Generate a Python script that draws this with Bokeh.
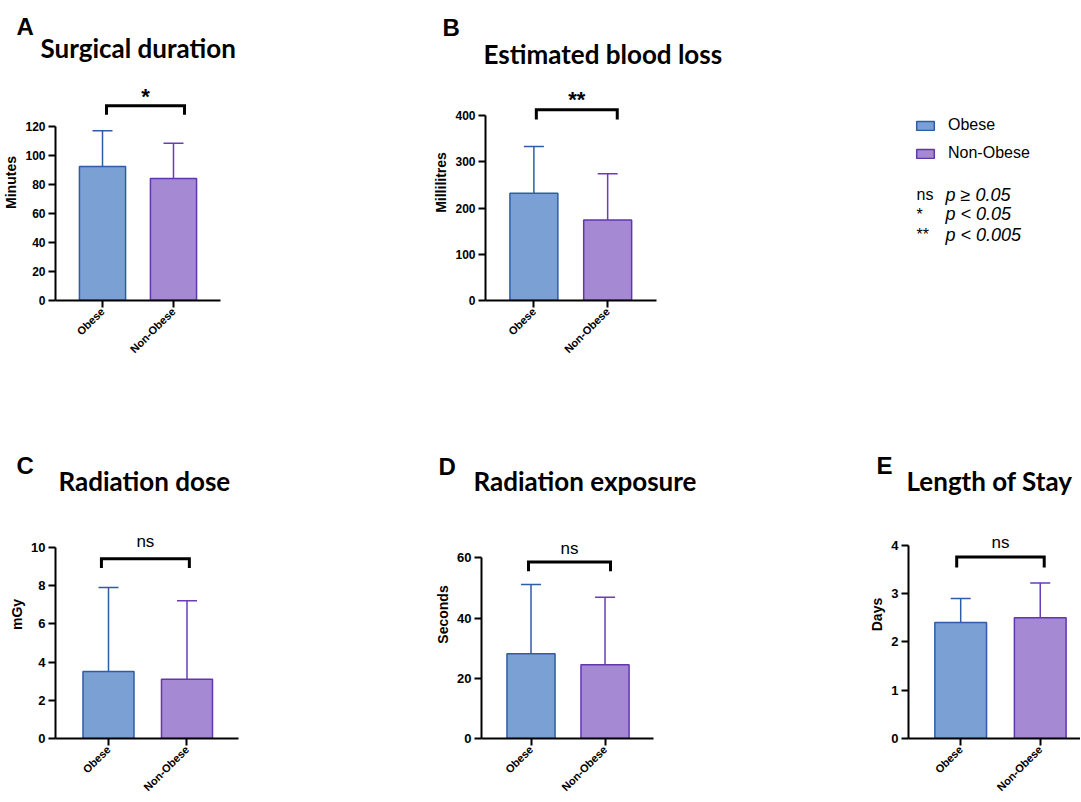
from bokeh.plotting import figure
from bokeh.models import (ColumnDataSource, Range1d, FixedTicker, Whisker, TeeHead,
                          Label, Legend, LegendItem, Title)
from bokeh.layouts import row, column
from bokeh.embed import file_html
from bokeh.resources import INLINE

# ---------------- data ----------------
groups = ["Obese", "Non-Obese"]
letters = ["A", "B", "C", "D", "E"]
titles = ["Surgical duration", "Estimated blood loss", "Radiation dose",
          "Radiation exposure", "Length of Stay"]
y_labels = ["Minutes", "Millilitres", "mGy", "Seconds", "Days"]
significance = ["*", "**", "ns", "ns", "ns"]

surgical_mean = [92.5, 84.2]
surgical_sd = [24.5, 24.3]
blood_mean = [232, 174]
blood_sd = [101, 100]
dose_mean = [3.5, 3.1]
dose_sd = [4.4, 4.1]
exposure_mean = [28.2, 24.5]
exposure_sd = [23.0, 22.4]
stay_mean = [2.4, 2.5]
stay_sd = [0.5, 0.72]

ticks_surgical = [0, 20, 40, 60, 80, 100, 120]
ticks_blood = [0, 100, 200, 300, 400]
ticks_dose = [0, 2, 4, 6, 8, 10]
ticks_exposure = [0, 20, 40, 60]
ticks_stay = [0, 1, 2, 3, 4]

key_marks = ["ns", "*", "**"]
key_texts = ["p \u2265 0.05", "p < 0.05", "p < 0.005"]

# ---------------- styles ----------------
FILL = ["#7aa0d4", "#a58ad3"]
LINE = ["#2f5ca6", "#6236ad"]
ERR = ["#2f5ca6", "#6a3db5"]
AX_FONT = "Liberation Sans"
TITLE_FONT = "Lato"

# panel geometry (pixels) and range extents
layouts = [
    dict(w=430, h=408, bl=55, br=210, bt=64, bb=108, xr=(0.338, 2.662), ytop=162.76,
         tick_fs="12px", lab_fs="14px", x_fs="11px", brx=(1.056, 2.155), bry=(128.1, 134.3),
         let_off=-39, let_st=-23, tit_off=-15, tit_st=2,
         sig_fs="22px", sig_off=9, sig_style="bold"),
    dict(w=429, h=408, bl=51, br=203, bt=64, bb=108, xr=(0.344, 2.662), ytop=510.3,
         tick_fs="12px", lab_fs="14px", x_fs="11px", brx=(1.033, 2.13), bry=(391.4, 412.5),
         let_off=-43, let_st=1, tit_off=-2, tit_st=-11,
         sig_fs="22px", sig_off=10, sig_style="bold"),
    dict(w=430, h=392, bl=55, br=192, bt=82, bb=61, xr=(0.325, 2.656), ytop=12.97,
         tick_fs="13px", lab_fs="14px", x_fs="11px", brx=(0.91, 2.03), bry=(8.92, 9.40),
         let_off=-39, let_st=-20, tit_off=3, tit_st=-12,
         sig_fs="17px", sig_off=17, sig_style="normal"),
    dict(w=436, h=392, bl=51, br=213, bt=82, bb=61, xr=(0.331, 2.655), ytop=82.4,
         tick_fs="13px", lab_fs="14px", x_fs="11px", brx=(0.966, 2.074), bry=(55.6, 58.67),
         let_off=-43, let_st=-21, tit_off=-8, tit_st=-13,
         sig_fs="17px", sig_off=13, sig_style="normal"),
    dict(w=214, h=392, bl=41, br=0, bt=82, bb=61, xr=(0.344, 2.506), ytop=5.134,
         tick_fs="13px", lab_fs="14px", x_fs="11px", brx=(0.95, 2.05), bry=(3.54, 3.757),
         let_off=-32, let_st=-19, tit_off=-2, tit_st=-13,
         sig_fs="17px", sig_off=15, sig_style="normal"),
]

means = [surgical_mean, blood_mean, dose_mean, exposure_mean, stay_mean]
sds = [surgical_sd, blood_sd, dose_sd, exposure_sd, stay_sd]
tick_sets = [ticks_surgical, ticks_blood, ticks_dose, ticks_exposure, ticks_stay]


def make_panel(i):
    L = layouts[i]
    mean, sd, ticks = means[i], sds[i], tick_sets[i]
    p = figure(width=L["w"], height=L["h"], x_range=Range1d(*L["xr"]),
               y_range=Range1d(0, L["ytop"]), output_backend="svg", title=None,
               toolbar_location=None, min_border_left=L["bl"], min_border_right=L["br"],
               min_border_top=L["bt"], min_border_bottom=L["bb"])
    p.outline_line_color = None
    p.xgrid.visible = False
    p.ygrid.visible = False
    p.background_fill_color = "white"

    xs = [k + 1 for k in range(len(groups))]
    src = ColumnDataSource(dict(x=xs, group=groups, mean=mean,
                                upper=[m + s for m, s in zip(mean, sd)],
                                fill=FILL, line=LINE))
    p.vbar(x="x", top="mean", width=0.65, source=src, fill_color="fill",
           line_color="line", line_width=1.5)
    for k in range(len(groups)):
        s = ColumnDataSource(dict(x=[xs[k]], lower=[mean[k]], upper=[mean[k] + sd[k]]))
        w = Whisker(base="x", lower="lower", upper="upper", source=s, dimension="height",
                    line_color=ERR[k], line_width=1.5, lower_head=None,
                    upper_head=TeeHead(size=20, line_color=ERR[k], line_width=1.5),
                    level="glyph")
        p.add_layout(w)

    # axes
    for ax in (p.xaxis[0], p.yaxis[0]):
        ax.axis_line_width = 2
        ax.axis_line_color = "black"
        ax.major_tick_line_width = 2
        ax.major_tick_line_color = "black"
        ax.major_tick_out = 7
        ax.major_tick_in = 0
        ax.minor_tick_line_color = None
        ax.major_label_text_font = AX_FONT
        ax.major_label_text_font_style = "bold"
        ax.major_label_text_color = "black"
    p.xaxis.ticker = FixedTicker(ticks=xs)
    p.xaxis.major_label_overrides = {x: g for x, g in zip(xs, groups)}
    p.xaxis.major_label_orientation = 0.785398
    p.xaxis.major_label_text_font_size = L["x_fs"]
    p.xaxis.major_label_standoff = 2
    p.yaxis.ticker = FixedTicker(ticks=ticks)
    p.yaxis.bounds = (ticks[0], ticks[-1])
    p.yaxis.major_label_text_font_size = L["tick_fs"]
    p.yaxis.major_label_standoff = 3
    p.yaxis.axis_label = y_labels[i]
    p.yaxis.axis_label_text_font = AX_FONT
    p.yaxis.axis_label_text_font_style = "bold"
    p.yaxis.axis_label_text_font_size = L["lab_fs"]
    p.yaxis.axis_label_text_color = "black"
    p.yaxis.axis_label_standoff = 3

    # significance bracket
    b1, b2 = L["brx"]
    lo, hi = L["bry"]
    p.line(x=[b1, b1, b2, b2], y=[lo, hi, hi, lo], line_width=3, line_color="black",
           line_join="miter")
    p.add_layout(Label(x=(b1 + b2) / 2, y=hi, y_offset=L["sig_off"], text=significance[i],
                       text_align="center", text_baseline="alphabetic", text_font=AX_FONT,
                       text_font_size=L["sig_fs"], text_font_style=L["sig_style"],
                       text_color="black"))

    # panel title (nearest the frame) and panel letter (above it)
    p.add_layout(Title(text=titles[i], align="left", offset=L["tit_off"],
                       standoff=L["tit_st"], text_font=TITLE_FONT, text_font_style="bold",
                       text_font_size="26px", text_color="black"), "above")
    p.add_layout(Title(text=letters[i], align="left", offset=L["let_off"],
                       standoff=L["let_st"], text_font=AX_FONT, text_font_style="bold",
                       text_font_size="24px", text_color="black"), "above")
    return p


panels = [make_panel(i) for i in range(5)]

# ---------------- key (legend) ----------------
lg = figure(width=221, height=408, x_range=Range1d(862, 1080), y_range=Range1d(300, 64),
            x_axis_type=None, y_axis_type=None,
            min_border_left=3, min_border_top=64, min_border_right=0, min_border_bottom=108,
            output_backend="svg", toolbar_location=None, title=None)
lg.outline_line_color = None
items = []
for k, g in enumerate(groups):
    r = lg.vbar(x=[float("nan")], top=[float("nan")], width=1, fill_color=FILL[k],
                line_color=LINE[k], line_width=1.5)
    items.append(LegendItem(label=g, renderers=[r]))
legend = Legend(items=items, location="top_left", margin=52, padding=0, spacing=10,
                glyph_width=22, glyph_height=11, label_standoff=12, label_height=11,
                label_text_font=AX_FONT, label_text_font_size="16px",
                label_text_color="black", background_fill_alpha=0, border_line_alpha=0)
lg.add_layout(legend)
key_y = [194, 213.5, 234]
for k in range(len(key_marks)):
    lg.add_layout(Label(x=916, y=key_y[k], text=key_marks[k], text_baseline="alphabetic",
                        text_font=AX_FONT, text_font_size="16px", text_color="black"))
    lg.add_layout(Label(x=945, y=key_y[k], text=key_texts[k], text_baseline="alphabetic",
                        text_font=AX_FONT, text_font_size="18px", text_font_style="italic",
                        text_color="black"))

layout = column(row(panels[0], panels[1], lg), row(panels[2], panels[3], panels[4]))

with open("out.html", "w") as f:
    f.write(file_html(layout, INLINE))
